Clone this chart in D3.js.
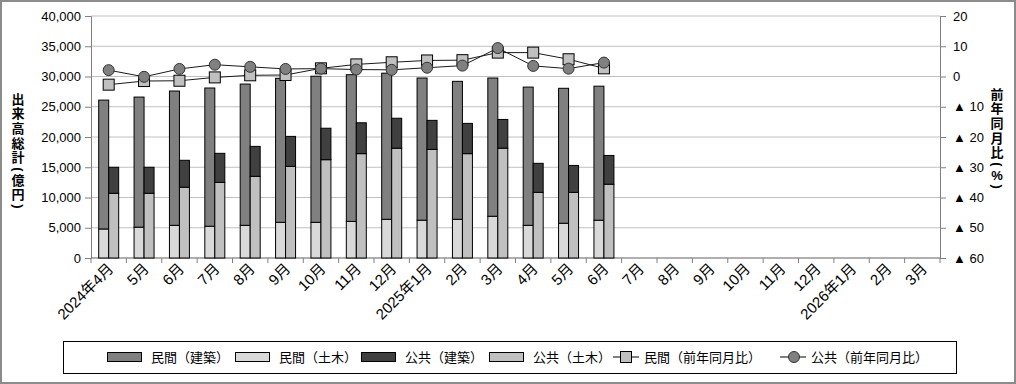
<!DOCTYPE html>
<html>
<head>
<meta charset="utf-8">
<script src="https://cdn.jsdelivr.net/npm/d3@7"></script>
<style>
  body { margin: 0; background: #fff; }
  text { font-family: "Liberation Sans", "Noto Sans CJK JP", sans-serif; fill: #000; }
</style>
</head>
<body>
<div id="chart"></div>
<script>
// ---- data ----
var months = ["2024年4月", "5月", "6月", "7月", "8月", "9月", "10月", "11月", "12月",
  "2025年1月", "2月", "3月", "4月", "5月", "6月", "7月", "8月", "9月", "10月", "11月", "12月",
  "2026年1月", "2月", "3月"];
var minkanDoboku = [4800, 5100, 5400, 5250, 5400, 5900, 5900, 6050, 6400, 6250, 6400, 6900, 5400, 5750, 6250];
var minkanKenchiku = [21300, 21500, 22200, 22850, 23350, 23800, 24150, 24250, 24150, 23500, 22800, 22850, 22850, 22300, 22150];
var kokyoDoboku = [10700, 10700, 11700, 12500, 13500, 15150, 16250, 17250, 18150, 17950, 17250, 18150, 10850, 10850, 12200];
var kokyoKenchiku = [4300, 4300, 4450, 4800, 4950, 4950, 5200, 5100, 4950, 4800, 5000, 4750, 4800, 4450, 4750];
var minkanYoY = [-2.7, -1.5, -1.4, -0.3, 0.4, 0.5, 2.7, 4.0, 4.7, 5.3, 5.4, 7.9, 7.9, 5.7, 2.7];
var kokyoYoY = [2.1, -0.1, 2.5, 3.9, 3.2, 2.5, 2.6, 2.3, 2.2, 2.9, 3.6, 9.4, 3.5, 2.6, 4.6];
var leftTicks = [0, 5000, 10000, 15000, 20000, 25000, 30000, 35000, 40000];
var rightTicks = [20, 10, 0, -10, -20, -30, -40, -50, -60];

var svgWidth = 1016;
var svgHeight = 384;
var margin = { top: 16, right: 76, bottom: 126, left: 91 };
var width = svgWidth - margin.left - margin.right;
var height = svgHeight - margin.top - margin.bottom;

var svg = d3.select("#chart").append("svg")
  .attr("width", svgWidth)
  .attr("height", svgHeight);

// outer frame
svg.append("rect")
  .attr("x", 1).attr("y", 1)
  .attr("width", svgWidth - 2).attr("height", svgHeight - 2)
  .attr("fill", "#fff").attr("stroke", "#8c8c8c").attr("stroke-width", 2);

var chartGroup = svg.append("g")
  .attr("transform", `translate(${margin.left}, ${margin.top})`);

// ---- scales ----
var x0 = d3.scaleBand().domain(d3.range(months.length)).range([0, width])
  .paddingInner(0.435).paddingOuter(0.2175);
var x1 = d3.scaleBand().domain(["minkan", "kokyo"]).range([0, x0.bandwidth()]);
var yLeft = d3.scaleLinear().domain([0, 40000]).range([height, 0]);
var yRight = d3.scaleLinear().domain([-60, 20]).range([height, 0]);

// gridlines
chartGroup.append("g").selectAll("line")
  .data(leftTicks)
  .enter().append("line")
  .attr("x1", 0).attr("x2", width)
  .attr("y1", d => yLeft(d)).attr("y2", d => yLeft(d))
  .attr("stroke", "#c0c0c0").attr("stroke-width", 1);

// ---- axes ----
var leftAxis = d3.axisLeft(yLeft).tickValues(leftTicks).tickSize(6).tickPadding(4)
  .tickFormat(d3.format(","));
var rightAxis = d3.axisRight(yRight).tickValues(rightTicks).tickSize(6).tickPadding(7)
  .tickFormat(d => d < 0 ? "▲ " + (-d) : String(d));

var gl = chartGroup.append("g").call(leftAxis);
var gr = chartGroup.append("g").attr("transform", `translate(${width},0)`).call(rightAxis);
[gl, gr].forEach(function(g) {
  g.select(".domain").attr("stroke", "#808080");
  g.selectAll(".tick line").attr("stroke", "#808080");
  g.selectAll("text").attr("font-size", "13px").attr("fill", "#000")
    .attr("font-family", "\"Liberation Sans\", \"Noto Sans CJK JP\", sans-serif");
});

// bottom axis: ticks on category boundaries
var gb = chartGroup.append("g").attr("transform", `translate(0,${height})`);
gb.append("line").attr("x1", 0).attr("x2", width).attr("stroke", "#808080");
gb.selectAll(".bt")
  .data(d3.range(months.length + 1))
  .enter().append("line")
  .attr("x1", d => d * x0.step()).attr("x2", d => d * x0.step())
  .attr("y1", 0).attr("y2", 5)
  .attr("stroke", "#808080");
gb.selectAll(".xl")
  .data(months)
  .enter().append("text")
  .attr("transform", (d, i) => `translate(${x0(i) + x0.bandwidth() / 2 + 2},${8}) rotate(-45)`)
  .attr("text-anchor", "end")
  .attr("dy", "0.35em")
  .attr("font-size", "15px")
  .text(d => d);

// ---- bars ----
function stack(lower, upper, key, cLow, cHigh) {
  var g = chartGroup.append("g");
  lower.forEach(function(v, i) {
    var x = x0(i) + x1(key);
    g.append("rect")
      .attr("x", x).attr("width", x1.bandwidth())
      .attr("y", yLeft(v)).attr("height", yLeft(0) - yLeft(v))
      .attr("fill", cLow).attr("stroke", "#000").attr("stroke-width", 1);
    g.append("rect")
      .attr("x", x).attr("width", x1.bandwidth())
      .attr("y", yLeft(v + upper[i])).attr("height", yLeft(v) - yLeft(v + upper[i]))
      .attr("fill", cHigh).attr("stroke", "#000").attr("stroke-width", 1);
  });
}
stack(minkanDoboku, minkanKenchiku, "minkan", "#d9d9d9", "#808080");
stack(kokyoDoboku, kokyoKenchiku, "kokyo", "#c0c0c0", "#404040");

// ---- lines ----
var cx = i => x0(i) + x0.bandwidth() / 2;
var line = d3.line().x((d, i) => cx(i)).y(d => yRight(d));

chartGroup.append("path").datum(minkanYoY)
  .attr("d", line).attr("fill", "none").attr("stroke", "#1a1a1a").attr("stroke-width", 1);
chartGroup.append("g").selectAll("rect")
  .data(minkanYoY).enter().append("rect")
  .attr("x", (d, i) => cx(i) - 5.5).attr("y", d => yRight(d) - 5.5)
  .attr("width", 11).attr("height", 11)
  .attr("fill", "#c0c0c0").attr("stroke", "#000").attr("stroke-width", 1);

chartGroup.append("path").datum(kokyoYoY)
  .attr("d", line).attr("fill", "none").attr("stroke", "#1a1a1a").attr("stroke-width", 1);
chartGroup.append("g").selectAll("circle")
  .data(kokyoYoY).enter().append("circle")
  .attr("cx", (d, i) => cx(i)).attr("cy", d => yRight(d))
  .attr("r", 5.5)
  .attr("fill", "#808080").attr("stroke", "#333").attr("stroke-width", 1);

// ---- axis titles (stacked vertically, one char at a time) ----
function verticalTitle(str, x, yTop) {
  var g = svg.append("g");
  var y = yTop;
  Array.from(str).forEach(function(ch) {
    if (ch === "(" || ch === ")") {
      g.append("text")
        .attr("transform", `translate(${x},${y + 4}) rotate(90)`)
        .attr("text-anchor", "middle").attr("dominant-baseline", "central")
        .attr("font-size", "13px").attr("font-weight", "bold")
        .text(ch);
      y += 7.5;
    } else {
      g.append("text")
        .attr("x", x).attr("y", y + 7)
        .attr("text-anchor", "middle").attr("dominant-baseline", "central")
        .attr("font-size", "13px").attr("font-weight", "bold")
        .attr("font-family", "\"Noto Sans CJK JP\", sans-serif")
        .text(ch);
      y += 14.7;
    }
  });
}
verticalTitle("出来高総計(億円)", 18, 92);
verticalTitle("前年同月比(%)", 997, 87);

// ---- legend ----
var legend = svg.append("g");
legend.append("rect")
  .attr("x", 63.5).attr("y", 341.5).attr("width", 893).attr("height", 32)
  .attr("fill", "#fff").attr("stroke", "#000").attr("stroke-width", 1);

var legendItems = [
  { name: "民間（建築）", type: "bar", color: "#808080", x: 107 },
  { name: "民間（土木）", type: "bar", color: "#d9d9d9", x: 235 },
  { name: "公共（建築）", type: "bar", color: "#404040", x: 361 },
  { name: "公共（土木）", type: "bar", color: "#c0c0c0", x: 489 },
  { name: "民間（前年同月比）", type: "square", color: "#c0c0c0", x: 613 },
  { name: "公共（前年同月比）", type: "circle", color: "#808080", x: 780 }
];
legendItems.forEach(function(d) {
  var ly = 357;
  if (d.type === "bar") {
    legend.append("rect")
      .attr("x", d.x + 0.5).attr("y", ly - 4.5).attr("width", 34).attr("height", 9)
      .attr("fill", d.color).attr("stroke", "#000");
    legend.append("text").attr("x", d.x + 44).attr("y", ly).attr("dy", "0.35em")
      .attr("font-size", "13px").text(d.name);
  } else {
    legend.append("line").attr("x1", d.x).attr("x2", d.x + 26)
      .attr("y1", ly).attr("y2", ly).attr("stroke", "#000");
    if (d.type === "square") {
      legend.append("rect").attr("x", d.x + 7.5).attr("y", ly - 5.5)
        .attr("width", 11).attr("height", 11)
        .attr("fill", d.color).attr("stroke", "#000");
    } else {
      legend.append("circle").attr("cx", d.x + 14).attr("cy", ly).attr("r", 5.5)
        .attr("fill", d.color).attr("stroke", "#333");
    }
    legend.append("text").attr("x", d.x + 31).attr("y", ly).attr("dy", "0.35em")
      .attr("font-size", "13px").text(d.name);
  }
});
</script>
</body>
</html>
